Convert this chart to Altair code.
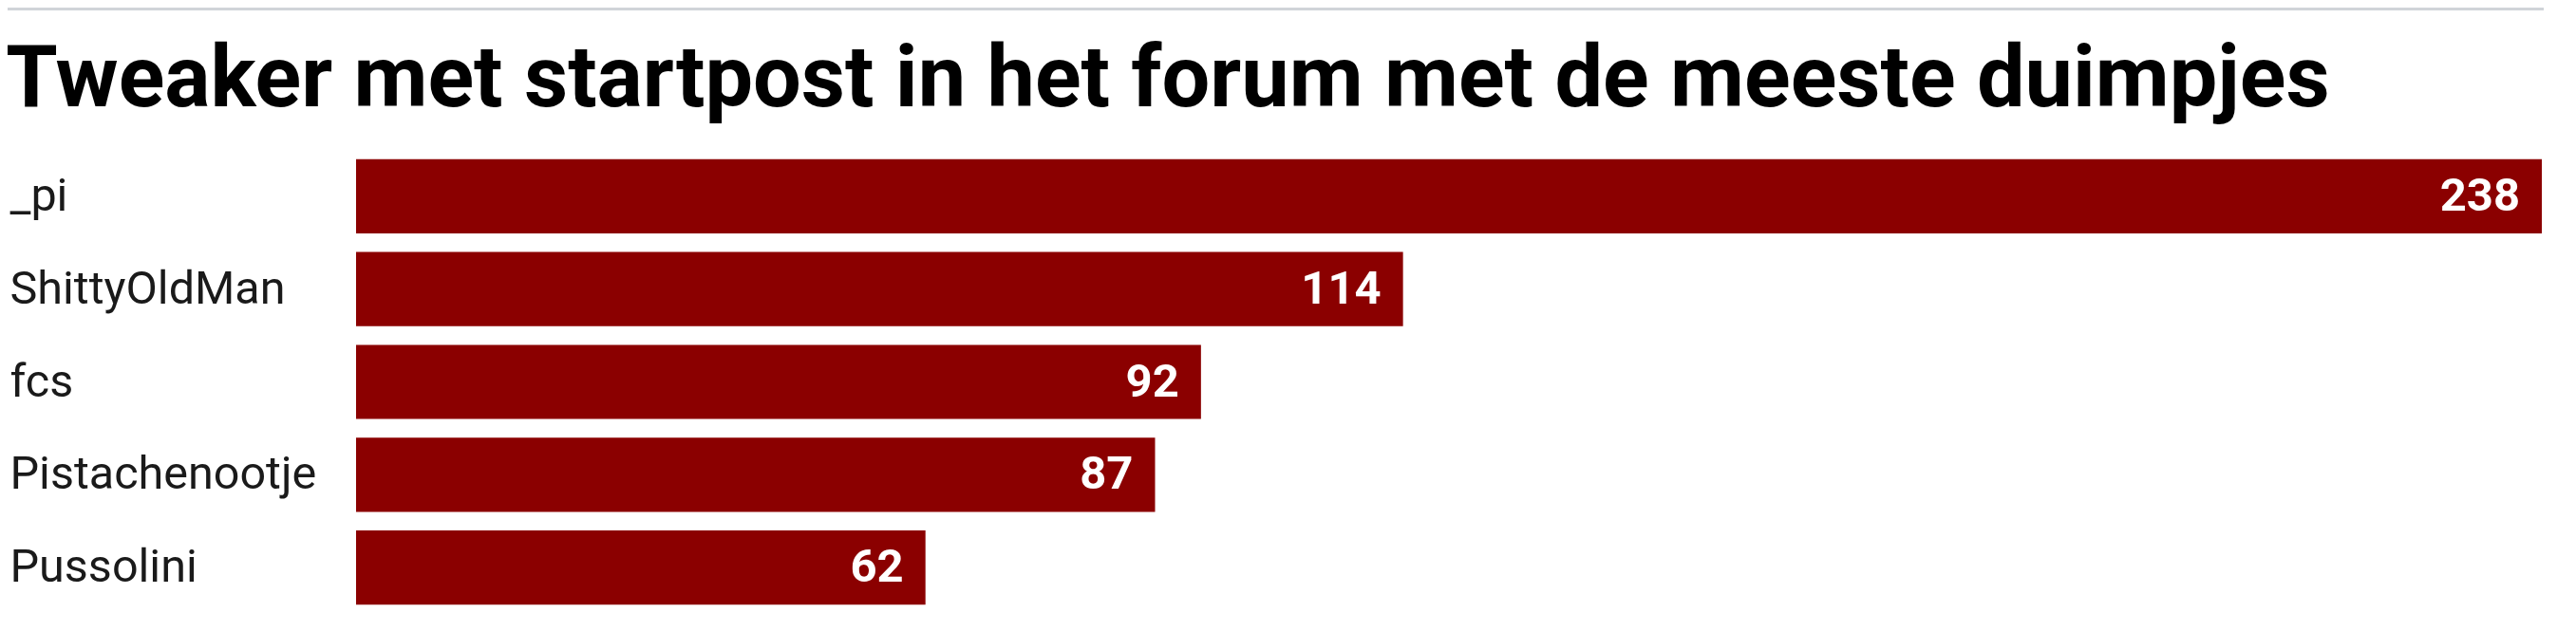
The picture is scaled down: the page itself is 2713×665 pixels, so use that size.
import altair as alt
import pandas as pd

names = ["_pi", "ShittyOldMan", "fcs", "Pistachenootje", "Pussolini"]
values = [238, 114, 92, 87, 62]

df = pd.DataFrame({"name": names, "value": values})

W = 2302
H = 489

y_enc = alt.Y(
    "name:N",
    sort=names,
    scale=alt.Scale(paddingInner=0.2, paddingOuter=0.1),
    axis=alt.Axis(
        title=None,
        domain=False,
        ticks=False,
        labelAlign="left",
        labelPadding=365,
        labelLimit=0,
        labelFont="Roboto",
        labelFontSize=48.5,
        labelColor="#1a1a1a",
    ),
)
x_enc = alt.X(
    "value:Q",
    scale=alt.Scale(domain=[0, max(values)], nice=False),
    axis=None,
)

bars = alt.Chart(df).mark_bar(color="#8b0000").encode(y=y_enc, x=x_enc)

labels = alt.Chart(df).mark_text(
    align="right",
    baseline="middle",
    dx=-23,
    color="white",
    font="Roboto",
    fontWeight="bold",
    fontSize=49,
).encode(y=alt.Y("name:N", sort=names), x="value:Q", text="value:Q")

topline = alt.Chart(df).mark_rule(color="#d0d4d9", strokeWidth=4).encode(
    x=alt.value(-370), x2=alt.value(W + 2), y=alt.value(-149)
)

chart = (
    alt.layer(topline, bars, labels)
    .properties(
        width=W,
        height=H,
        title=alt.TitleParams(
            "Tweaker met startpost in het forum met de meeste duimpjes",
            anchor="start",
            frame="group",
            dx=-370,
            font="Roboto",
            fontWeight="bold",
            fontSize=90,
            color="#000000",
            offset=-124,
        ),
        autosize=alt.AutoSizeParams(type="none"),
        padding={"left": 367, "top": 150, "right": 24, "bottom": 10},
    )
    .configure_view(stroke=None)
)

chart.save("out.html", embed_options={"renderer": "svg", "actions": False})
